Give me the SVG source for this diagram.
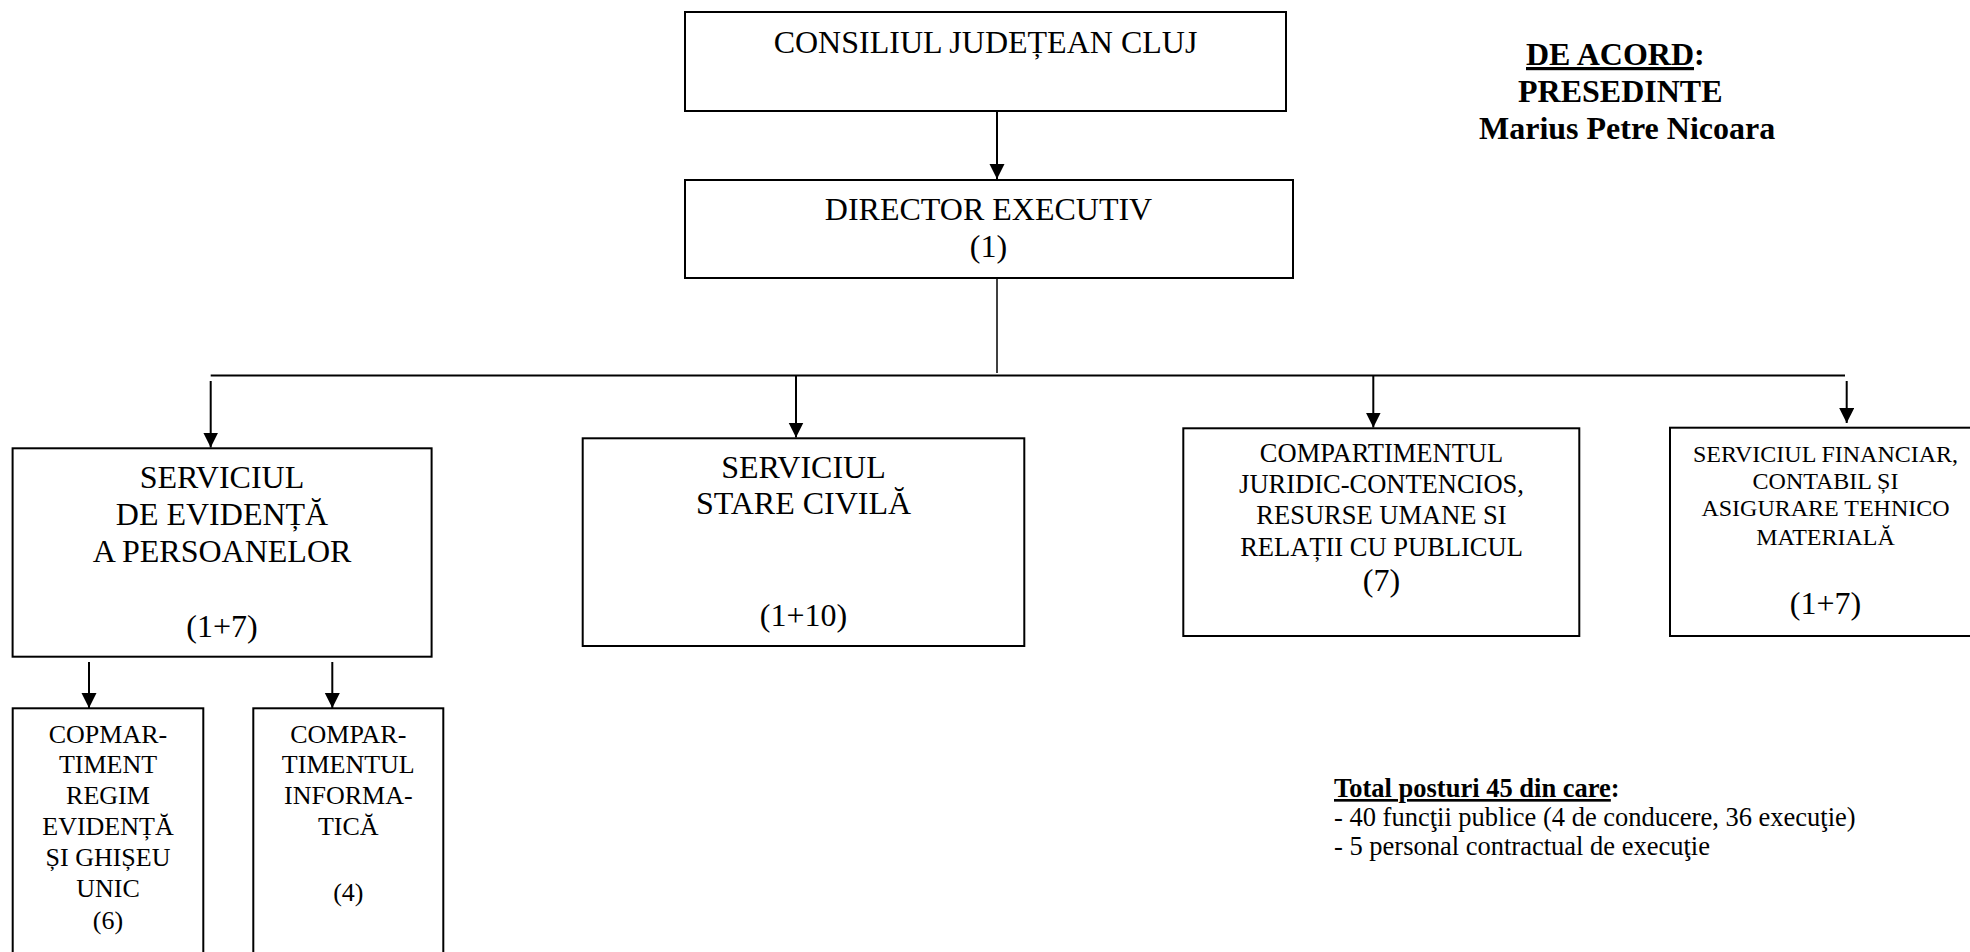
<svg xmlns="http://www.w3.org/2000/svg" width="1970" height="952" viewBox="0 0 1970 952">
<style>
text{font-family:"Liberation Serif","Times New Roman",serif;fill:#000}
.box{fill:#fff;stroke:#000;stroke-width:2}
.t32{font-size:32px;text-anchor:middle}
.t26{font-size:26px;text-anchor:middle}
.t265{font-size:26.5px;text-anchor:middle}
.t24{font-size:24px;text-anchor:middle}
.b32{font-size:32px;font-weight:bold}
.n26{font-size:26.5px}
.c{stroke:#000;stroke-width:2;fill:none}
</style>
<defs>
<marker id="ah" markerUnits="userSpaceOnUse" markerWidth="16" markerHeight="16" viewBox="0 0 16 16" refX="15" refY="7.5" orient="auto">
<path d="M0,0 L15,7.5 L0,15 z" fill="#000"/>
</marker>
</defs>
<rect width="1970" height="952" fill="#fff"/>
<g id="connectors">
<line class="c" x1="997" y1="111" x2="997" y2="179" marker-end="url(#ah)"/>
<line x1="997" y1="278" x2="997" y2="373" stroke="#000" stroke-width="1.5"/>
<line class="c" x1="210.7" y1="375.5" x2="1845" y2="375.5"/>
<line class="c" x1="210.7" y1="381" x2="210.7" y2="447.5" marker-end="url(#ah)"/>
<line class="c" x1="796" y1="376" x2="796" y2="437.5" marker-end="url(#ah)"/>
<line class="c" x1="1373.3" y1="376" x2="1373.3" y2="427.5" marker-end="url(#ah)"/>
<line class="c" x1="1846.7" y1="381" x2="1846.7" y2="423" marker-end="url(#ah)"/>
<line class="c" x1="89" y1="662" x2="89" y2="708" marker-end="url(#ah)"/>
<line class="c" x1="332.3" y1="662" x2="332.3" y2="708" marker-end="url(#ah)"/>
</g>
<g id="consiliul">
<rect class="box" x="685" y="12" width="601" height="99"/>
<text class="t32" x="985.5" y="53">CONSILIUL JUDEȚEAN CLUJ</text>
</g>
<g id="director">
<rect class="box" x="685" y="180" width="608" height="98"/>
<text class="t32" x="988.5" y="220">DIRECTOR EXECUTIV</text>
<text class="t32" x="988.5" y="257">(1)</text>
</g>
<g id="serv-evidenta">
<rect class="box" x="12.6" y="448.3" width="419" height="208.4"/>
<text class="t32" x="222" y="488">SERVICIUL</text>
<text class="t32" x="222" y="525">DE EVIDENȚĂ</text>
<text class="t32" x="222" y="562">A PERSOANELOR</text>
<text class="t32" x="222" y="637">(1+7)</text>
</g>
<g id="serv-stare-civila">
<rect class="box" x="582.7" y="438.3" width="441.6" height="207.7"/>
<text class="t32" x="803.5" y="478">SERVICIUL</text>
<text class="t32" x="803.5" y="514">STARE CIVILĂ</text>
<text class="t32" x="803.5" y="626">(1+10)</text>
</g>
<g id="comp-juridic">
<rect class="box" x="1183.3" y="428.3" width="396" height="207.7"/>
<text class="t265" x="1381.5" y="462">COMPARTIMENTUL</text>
<text class="t265" x="1381.5" y="493">JURIDIC-CONTENCIOS,</text>
<text class="t265" x="1381.5" y="524">RESURSE UMANE SI</text>
<text class="t265" x="1381.5" y="555.5">RELAȚII CU PUBLICUL</text>
<text class="t32" x="1381.5" y="591">(7)</text>
</g>
<g id="serv-financiar">
<rect class="box" x="1670" y="427.7" width="311" height="208.3"/>
<text class="t24" x="1825.5" y="462">SERVICIUL FINANCIAR,</text>
<text class="t24" x="1825.5" y="489">CONTABIL ȘI</text>
<text class="t24" x="1825.5" y="516">ASIGURARE TEHNICO</text>
<text class="t24" x="1825.5" y="545">MATERIALĂ</text>
<text class="t32" x="1825.5" y="614">(1+7)</text>
</g>
<g id="comp-regim">
<rect class="box" x="12.7" y="708.3" width="190.6" height="260"/>
<text class="t26" x="108" y="742.7">COPMAR-</text>
<text class="t26" x="108" y="773.3">TIMENT</text>
<text class="t26" x="108" y="804.3">REGIM</text>
<text class="t26" x="108" y="835">EVIDENȚĂ</text>
<text class="t26" x="108" y="865.7">ȘI GHIȘEU</text>
<text class="t26" x="108" y="896.7">UNIC</text>
<text class="t26" x="108" y="929">(6)</text>
</g>
<g id="comp-informatica">
<rect class="box" x="253.3" y="708.3" width="190" height="260"/>
<text class="t26" x="348.3" y="742.7">COMPAR-</text>
<text class="t26" x="348.3" y="773.3">TIMENTUL</text>
<text class="t26" x="348.3" y="804.3">INFORMA-</text>
<text class="t26" x="348.3" y="835">TICĂ</text>
<text class="t26" x="348.3" y="901">(4)</text>
</g>
<g id="aprobare">
<text class="b32" x="1526" y="65">
<tspan text-decoration="underline">DE ACORD</tspan>:</text>
<text class="b32" x="1518" y="101.5">PRESEDINTE</text>
<text class="b32" x="1479" y="138.5">Marius Petre Nicoara</text>
</g>
<g id="total">
<text class="n26" x="1334" y="797" font-weight="bold"><tspan text-decoration="underline">Total posturi 45 din care</tspan>:</text>
<text class="n26" x="1334" y="826">- 40 funcţii publice (4 de conducere, 36 execuţie)</text>
<text class="n26" x="1334" y="855">- 5 personal contractual de execuţie</text>
</g>
</svg>
